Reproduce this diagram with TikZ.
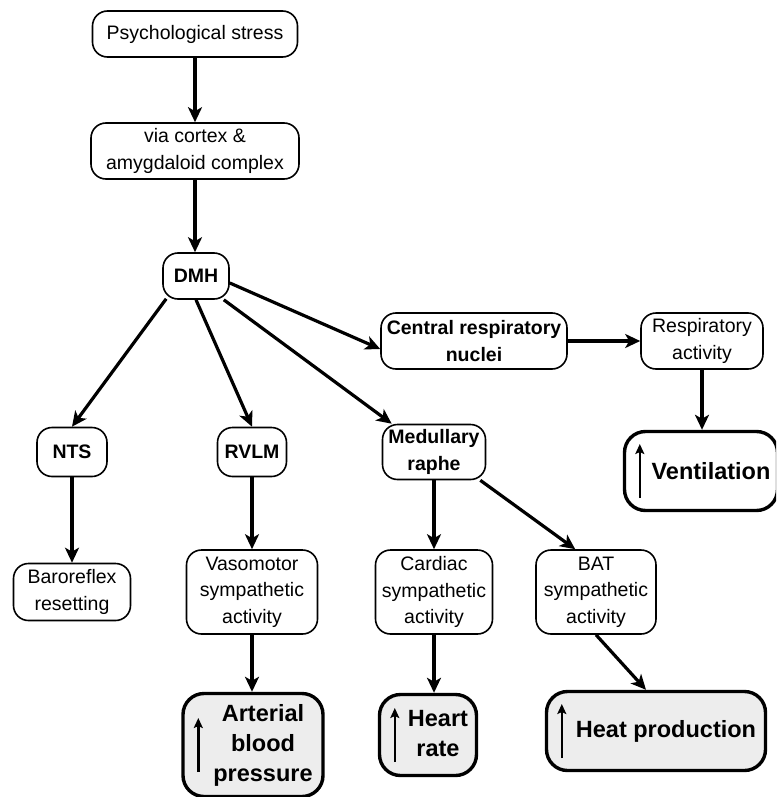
\documentclass[tikz,border=0pt]{standalone}
\usepackage{fontspec}
\setmainfont{Liberation Sans}
\usetikzlibrary{arrows.meta}
\definecolor{outfill}{gray}{0.93}

\tikzset{
  box/.style={draw, line width=1.6pt, rounded corners=15pt, fill=white, align=center,
    inner sep=2pt, font=\fontsize{19.5}{26.5}\selectfont},
  keybox/.style={box, font=\fontsize{19.5}{26.5}\selectfont\bfseries},
  outbox/.style={draw, line width=3.4pt, rounded corners=21pt, fill=outfill, inner sep=2pt,
    font=\fontsize{23.5}{30}\selectfont\bfseries},
  link/.style={line width=3.2pt, -{Stealth[length=15pt,width=14pt,inset=4pt]}},
  uparrow/.style={line width=2.4pt, -{Stealth[length=10pt,width=9pt,inset=2pt]}}
}

\begin{document}
\begin{tikzpicture}[x=1pt, y=-1pt]
    \useasboundingbox (0,0) rectangle (776,797);
    \clip (0,0) rectangle (776,797);

    \node[box, minimum width=205pt, minimum height=46pt] (stress) at (195,34) {Psychological stress};
    \node[box, minimum width=208pt, minimum height=56pt] (cortex) at (195,151) {via cortex \&\\amygdaloid complex};
    \node[keybox, minimum width=66pt, minimum height=46pt] (dmh) at (196,276) {DMH};
    \node[keybox, minimum width=186pt, minimum height=56pt] (crn) at (474,341) {Central respiratory\\nuclei};
    \node[box, minimum width=122pt, minimum height=56pt] (resp) at (702,341) {Respiratory\\activity};
    \node[outbox, fill=white, minimum width=153pt, minimum height=79pt] (vent) at (701,471) {\hspace*{20pt}Ventilation};

    \node[keybox, minimum width=70pt, minimum height=49pt] (nts) at (72,452) {NTS};
    \node[keybox, minimum width=69pt, minimum height=49pt] (rvlm) at (252,452) {RVLM};
    \node[keybox, minimum width=103pt, minimum height=55pt] (mr) at (434,452) {Medullary\\raphe};

    \node[box, minimum width=117pt, minimum height=57pt] (baro) at (72,592) {Baroreflex\\resetting};
    \node[box, minimum width=131pt, minimum height=84pt] (vaso) at (252,592) {Vasomotor\\sympathetic\\activity};
    \node[box, minimum width=117pt, minimum height=84pt] (card) at (434,592) {Cardiac\\sympathetic\\activity};
    \node[box, minimum width=120pt, minimum height=84pt] (bat) at (596,592) {BAT\\sympathetic\\activity};

    \node[outbox, minimum width=140pt, minimum height=103pt] (abp) at (253,745)
        {\hspace*{20pt}\begin{tabular}{@{}c@{}}Arterial\\blood\\pressure\end{tabular}};
    \node[outbox, minimum width=97pt, minimum height=81pt] (hr) at (428,735)
        {\hspace*{20pt}\begin{tabular}{@{}c@{}}Heart\\rate\end{tabular}};
    \node[outbox, minimum width=219pt, minimum height=79pt] (heat) at (656,731) {\hspace*{20pt}Heat production};

    \foreach \n in {vent,abp,hr,heat}
        \draw[uparrow] ([xshift=17pt,yshift=-27pt]\n.west) -- ++(0,-54);

    \draw[link] (stress) -- (cortex);
    \draw[link] (cortex.south) -- (cortex.south |- dmh.north);
    \draw[link] ([xshift=4pt,yshift=1pt]dmh.south west) -- (nts.north);
    \draw[link] (dmh.south) -- (rvlm.north);
    \draw[link] ([xshift=-6pt]dmh.south east) -- ([xshift=10pt]mr.north west);
    \draw[link] ([yshift=-7pt]dmh.east) -- ([yshift=-8pt]crn.west);
    \draw[link] (crn) -- (resp);
    \draw[link] (resp.south) -- (resp.south |- vent.north);
    \draw[link] (nts) -- (baro);
    \draw[link] (rvlm) -- (vaso);
    \draw[link] (vaso.south) -- (vaso.south |- abp.north);
    \draw[link] (mr) -- (card);
    \draw[link] ([xshift=-6pt]mr.south east) -- ([xshift=40pt]bat.north west);
    \draw[link] (card.south) -- (card.south |- hr.north);
    \draw[link] (bat.south) -- ([xshift=-10pt]heat.north);
\end{tikzpicture}
\end{document}
